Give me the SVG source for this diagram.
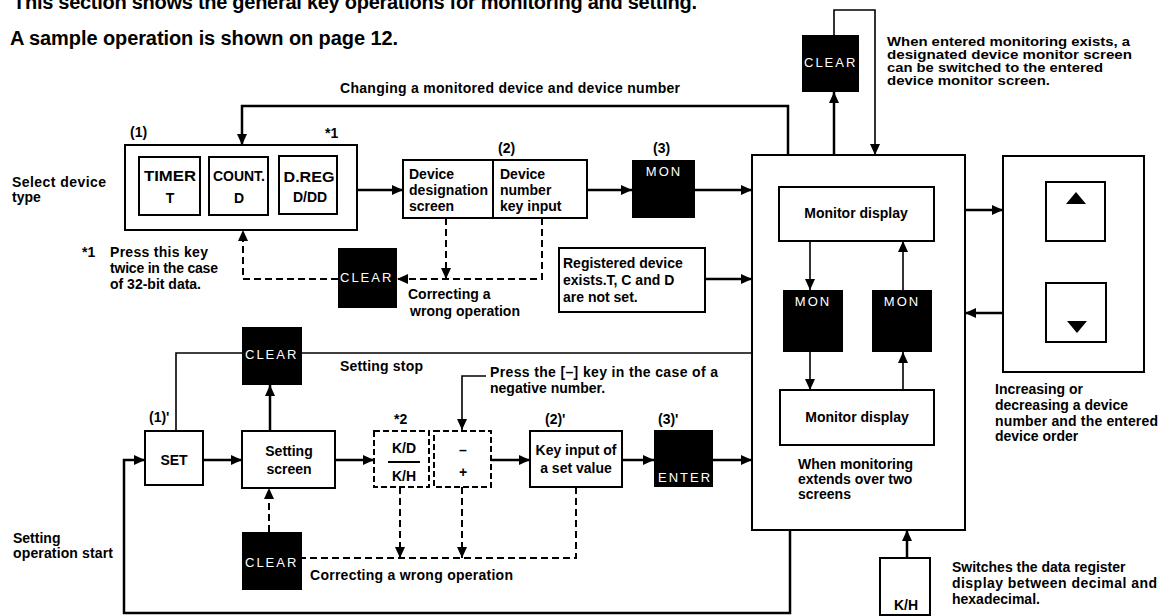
<svg xmlns="http://www.w3.org/2000/svg" width="1163" height="616" viewBox="0 0 1163 616">
<defs>
<style>
.t{font-family:"Liberation Sans",Arial,sans-serif;font-weight:bold;font-size:14px;fill:#000}
.s{font-size:13px}
.h{font-family:"Liberation Sans",Arial,sans-serif;font-weight:bold;font-size:20px;fill:#000}
.c{text-anchor:middle}
.w{font-family:"Liberation Sans",Arial,sans-serif;font-size:13px;fill:#fff;letter-spacing:2px}
.box{fill:#fff;stroke:#000;stroke-width:2}
.dbox{fill:#fff;stroke:#000;stroke-width:2;stroke-dasharray:6 3}
.key{fill:#000}
.ln{fill:none;stroke:#000;stroke-width:2.5}
.thin{fill:none;stroke:#000;stroke-width:1.6}
.dash{fill:none;stroke:#000;stroke-width:2;stroke-dasharray:7 4}
</style>
<marker id="a" markerUnits="userSpaceOnUse" markerWidth="11" markerHeight="10" refX="11" refY="5" orient="auto">
<path d="M0,0 L11,5 L0,10 z" fill="#000"/>
</marker>
</defs>
<rect width="1163" height="616" fill="#fff"/>

<g id="header">
<text class="h" x="13" y="9" textLength="684">This section shows the general key operations for monitoring and setting.</text>
<text class="h" x="10" y="45" textLength="388">A sample operation is shown on page 12.</text>
</g>

<g id="labels">
<text class="t" x="340" y="93" textLength="340">Changing a monitored device and device number</text>
<text class="t" x="130" y="137">(1)</text>
<text class="t" x="325" y="138">*1</text>
<text class="t" x="498" y="153">(2)</text>
<text class="t" x="653" y="153">(3)</text>
<text class="t" x="12" y="187" textLength="94">Select device</text>
<text class="t" x="12" y="202">type</text>
<text class="t" x="82" y="257">*1</text>
<text class="t" x="110" y="257" textLength="98">Press this key</text>
<text class="t" x="110" y="273" textLength="108">twice in the case</text>
<text class="t" x="110" y="289">of 32-bit data.</text>
<text class="t" x="408" y="299">Correcting a</text>
<text class="t" x="410" y="316" textLength="110">wrong operation</text>
<text class="t s" x="887" y="46" textLength="243" lengthAdjust="spacingAndGlyphs">When entered monitoring exists, a</text>
<text class="t s" x="887" y="59" textLength="245" lengthAdjust="spacingAndGlyphs">designated device monitor screen</text>
<text class="t s" x="887" y="72" textLength="216" lengthAdjust="spacingAndGlyphs">can be switched to the entered</text>
<text class="t s" x="887" y="85" textLength="163" lengthAdjust="spacingAndGlyphs">device monitor screen.</text>
<text class="t" x="995" y="394">Increasing or</text>
<text class="t" x="995" y="410">decreasing a device</text>
<text class="t" x="995" y="426" textLength="163">number and the entered</text>
<text class="t" x="995" y="441">device order</text>
<text class="t" x="952" y="572">Switches the data register</text>
<text class="t" x="952" y="588" textLength="205">display between decimal and</text>
<text class="t" x="952" y="604">hexadecimal.</text>
<text class="t" x="340" y="371" textLength="83">Setting stop</text>
<text class="t" x="490" y="377" textLength="228">Press the [–] key in the case of a</text>
<text class="t" x="490" y="393">negative number.</text>
<text class="t" x="149" y="422">(1)'</text>
<text class="t" x="394" y="424">*2</text>
<text class="t" x="545" y="424">(2)'</text>
<text class="t" x="658" y="424">(3)'</text>
<text class="t" x="310" y="580" textLength="203">Correcting a wrong operation</text>
<text class="t" x="13" y="543">Setting</text>
<text class="t" x="13" y="558" textLength="100">operation start</text>
</g>

<g id="device-type">
<rect class="box" x="125" y="145" width="232" height="85"/>
<g id="timer"><rect class="box" x="139" y="157" width="61" height="58"/>
<text class="t c" x="170" y="181" textLength="52" lengthAdjust="spacingAndGlyphs">TIMER</text><text class="t c" x="170" y="203">T</text></g>
<g id="count"><rect class="box" x="209" y="157" width="59" height="58"/>
<text class="t c" x="239" y="181" textLength="52" lengthAdjust="spacingAndGlyphs">COUNT.</text><text class="t c" x="239" y="203">D</text></g>
<g id="dreg"><rect class="box" x="279" y="156" width="58" height="58"/>
<text class="t c" x="309" y="182" textLength="51" lengthAdjust="spacingAndGlyphs">D.REG</text><text class="t c" x="310" y="202">D/DD</text></g>
</g>

<g id="device-screen">
<rect class="box" x="403" y="160" width="184" height="58"/>
<line x1="493" y1="160" x2="493" y2="218" stroke="#000" stroke-width="2"/>
<text class="t" x="409" y="179">Device</text>
<text class="t" x="409" y="195" textLength="79">designation</text>
<text class="t" x="409" y="211">screen</text>
<text class="t" x="500" y="179">Device</text>
<text class="t" x="500" y="195">number</text>
<text class="t" x="500" y="211">key input</text>
</g>

<g id="mon3"><rect class="key" x="632" y="160" width="63" height="58"/><text class="w c" x="664" y="176">MON</text></g>

<g id="clear-mid"><rect class="key" x="338" y="248" width="59" height="60"/><text class="w" x="340" y="282">CLEAR</text></g>

<g id="registered">
<rect class="box" x="559" y="248" width="146" height="64"/>
<text class="t" x="563" y="268">Registered device</text>
<text class="t" x="563" y="285">exists.T, C and D</text>
<text class="t" x="563" y="302">are not set.</text>
</g>

<g id="clear-top"><rect class="key" x="802" y="35" width="57" height="57"/><text class="w" x="804" y="67">CLEAR</text></g>

<g id="monitor">
<rect class="box" x="752" y="155" width="213" height="375" stroke-width="2.5"/>
<g id="disp1"><rect class="box" x="779" y="187" width="155" height="54"/><text class="t c" x="856" y="218">Monitor display</text></g>
<g id="monL"><rect class="key" x="783" y="290" width="60" height="62"/><text class="w c" x="813" y="306">MON</text></g>
<g id="monR"><rect class="key" x="872" y="290" width="60" height="62"/><text class="w c" x="902" y="306">MON</text></g>
<g id="disp2"><rect class="box" x="780" y="390" width="154" height="55"/><text class="t c" x="857" y="422">Monitor display</text></g>
<text class="t" x="798" y="469">When monitoring</text>
<text class="t" x="798" y="484">extends over two</text>
<text class="t" x="798" y="499">screens</text>
</g>

<g id="updown">
<rect class="box" x="1003" y="156" width="141" height="216"/>
<rect class="box" x="1046" y="182" width="59" height="59"/>
<path d="M1076,192 L1086,204 L1066,204 z" fill="#000"/>
<rect class="box" x="1046" y="283" width="60" height="59"/>
<path d="M1067,321 L1087,321 L1077,333 z" fill="#000"/>
</g>

<g id="kh"><rect class="box" x="880" y="558" width="50" height="57"/><text class="t c" x="906" y="610">K/H</text></g>

<g id="set"><rect class="box" x="145" y="431" width="58" height="54"/><text class="t c" x="174" y="465">SET</text></g>

<g id="setting-screen"><rect class="box" x="242" y="431" width="93" height="57" stroke-width="3"/>
<text class="t c" x="289" y="456">Setting</text><text class="t c" x="289" y="474">screen</text></g>

<g id="clear-stop"><rect class="key" x="242" y="327" width="60" height="58"/><text class="w" x="245" y="359">CLEAR</text></g>
<g id="clear-bot"><rect class="key" x="242" y="532" width="60" height="58"/><text class="w" x="245" y="567">CLEAR</text></g>

<g id="kd"><rect class="dbox" x="374" y="431" width="55" height="56"/>
<text class="t c" x="404" y="453">K/D</text>
<line x1="388" y1="462" x2="420" y2="462" stroke="#000" stroke-width="2"/>
<text class="t c" x="404" y="481">K/H</text></g>

<g id="sign"><rect class="dbox" x="434" y="431" width="57" height="56"/>
<text class="t c" x="463" y="455">–</text><text class="t c" x="463" y="477">+</text></g>

<g id="keyinput"><rect class="box" x="530" y="431" width="92" height="56"/>
<text class="t c" x="576" y="455">Key input of</text><text class="t c" x="576" y="473">a set value</text></g>

<g id="enter"><rect class="key" x="654" y="430" width="59" height="57"/><text class="w" x="658" y="482">ENTER</text></g>

<g id="connectors">
<path class="ln" d="M788,155 V106 H242 V145" marker-end="url(#a)"/>
<path class="ln" d="M357,190 H403" marker-end="url(#a)"/>
<path class="ln" d="M587,190 H632" marker-end="url(#a)"/>
<path class="ln" d="M695,190 H752" marker-end="url(#a)"/>
<path class="ln" d="M705,279 H752" marker-end="url(#a)"/>
<path class="dash" d="M446,218 V279" marker-end="url(#a)"/>
<path class="dash" d="M542,218 V279 H397" marker-end="url(#a)"/>
<path class="dash" d="M338,279 H243 V230" marker-end="url(#a)"/>
<path class="ln" d="M834,155 V92" marker-end="url(#a)"/>
<path class="thin" d="M834,35 V10 H875 V155" marker-end="url(#a)"/>
<path class="thin" d="M810,241 V290" marker-end="url(#a)"/>
<path class="thin" d="M903,290 V241" marker-end="url(#a)"/>
<path class="thin" d="M810,352 V390" marker-end="url(#a)"/>
<path class="thin" d="M903,390 V352" marker-end="url(#a)"/>
<path class="ln" d="M965,210 H1003" marker-end="url(#a)"/>
<path class="ln" d="M1003,313 H965" marker-end="url(#a)"/>
<path class="ln" d="M907,558 V530" marker-end="url(#a)"/>
<path class="ln" d="M790,530 V613 H124 V460 H145" marker-end="url(#a)"/>
<path class="ln" d="M203,460 H242" marker-end="url(#a)"/>
<path class="ln" d="M270,431 V385" marker-end="url(#a)"/>
<path class="thin" d="M176,431 V353 H242"/>
<path class="thin" d="M302,353 H752"/>
<path class="ln" d="M335,460 H374" marker-end="url(#a)"/>
<path class="ln" d="M491,460 H530" marker-end="url(#a)"/>
<path class="ln" d="M622,460 H654" marker-end="url(#a)"/>
<path class="ln" d="M713,460 H752" marker-end="url(#a)"/>
<path class="thin" d="M486,376 H462 V430" marker-end="url(#a)"/>
<path class="dash" d="M576,487 V558 H302"/>
<path class="dash" d="M400,487 V558" marker-end="url(#a)"/>
<path class="dash" d="M462,487 V558" marker-end="url(#a)"/>
<path class="dash" d="M269,532 V488" marker-end="url(#a)"/>
</g>
</svg>
